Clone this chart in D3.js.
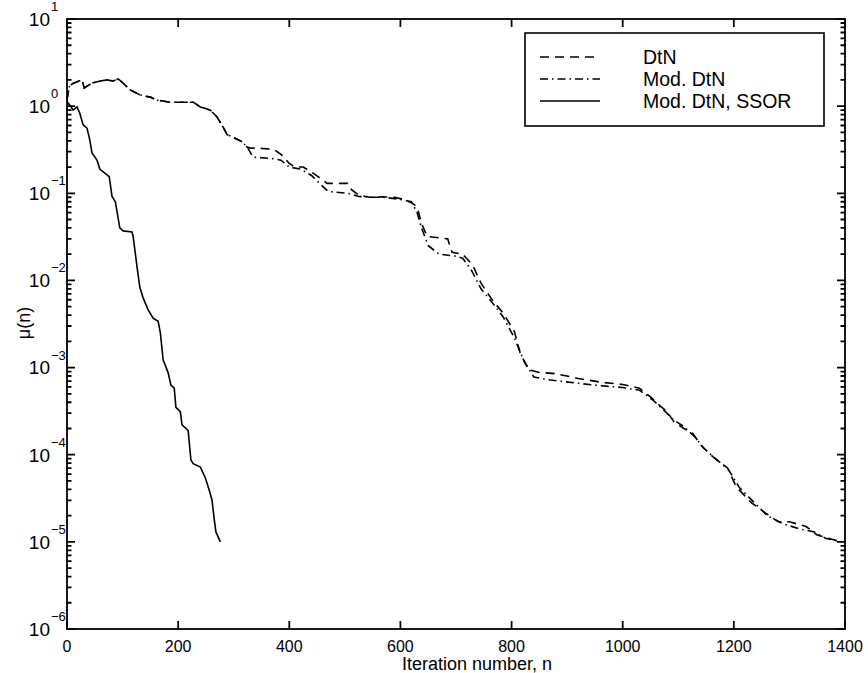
<!DOCTYPE html>
<html>
<head>
<meta charset="utf-8">
<script src="https://cdn.jsdelivr.net/npm/d3@7"></script>
<style>
  body { margin: 0; background: #fff; }
  svg { font-family: "Liberation Sans", Arial, sans-serif; }
</style>
</head>
<body>
<div id="vis"></div>
<script>
// iteration counts and mu(n) values
const dtnN = [0, 4, 9, 18, 27, 31, 45, 60, 72, 83, 92, 101, 114, 132, 150, 162, 186, 204, 227, 240, 258, 270, 281, 288, 299, 315, 324, 330, 342, 372, 385, 400, 410, 425, 440, 455, 468, 505, 512, 525, 545, 565, 590, 605, 620, 630, 638, 648, 685, 693, 712, 730, 745, 765, 785, 805, 815, 830, 850, 880, 920, 960, 1000, 1030, 1050, 1062, 1080, 1092, 1110, 1125, 1140, 1162, 1189, 1204, 1232, 1259, 1280, 1300, 1330, 1350, 1370, 1392];
const dtnMu = [1.2, 1.66, 1.8, 1.9, 2.0, 1.62, 1.84, 1.94, 2.0, 1.94, 2.05, 1.84, 1.53, 1.34, 1.27, 1.17, 1.11, 1.11, 1.11, 0.98, 0.9, 0.75, 0.575, 0.47, 0.44, 0.39, 0.34, 0.33, 0.33, 0.32, 0.28, 0.22, 0.2, 0.2, 0.175, 0.15, 0.13, 0.13, 0.11, 0.095, 0.09, 0.091, 0.09, 0.085, 0.078, 0.07, 0.045, 0.032, 0.03, 0.021, 0.02, 0.015, 0.0093, 0.006, 0.0042, 0.0026, 0.0015, 0.00095, 0.00088, 0.00085, 0.00075, 0.00068, 0.00064, 0.00058, 0.00046, 0.00039, 0.00031, 0.00024, 0.0002, 0.00018, 0.00013, 0.000095, 0.00007, 0.000043, 0.000028, 0.000021, 0.000017, 0.000017, 0.000015, 0.000012, 0.000011, 0.00001];

const modN = [0, 4, 9, 18, 27, 31, 45, 60, 72, 83, 92, 101, 114, 132, 150, 162, 186, 204, 227, 240, 258, 270, 281, 288, 299, 315, 324, 335, 370, 385, 400, 420, 440, 460, 470, 505, 525, 545, 570, 600, 620, 630, 638, 650, 670, 700, 712, 728, 745, 765, 785, 805, 822, 840, 870, 920, 960, 1000, 1030, 1055, 1075, 1092, 1110, 1130, 1145, 1165, 1190, 1210, 1235, 1260, 1290, 1320, 1345, 1365, 1395];
const modMu = [1.2, 1.66, 1.8, 1.9, 2.0, 1.62, 1.84, 1.94, 2.0, 1.94, 2.05, 1.84, 1.53, 1.34, 1.27, 1.17, 1.11, 1.11, 1.11, 0.98, 0.9, 0.75, 0.575, 0.47, 0.44, 0.39, 0.34, 0.26, 0.25, 0.24, 0.2, 0.19, 0.16, 0.12, 0.105, 0.1, 0.092, 0.09, 0.09, 0.085, 0.08, 0.06, 0.04, 0.025, 0.02, 0.019, 0.018, 0.013, 0.008, 0.0056, 0.0038, 0.0022, 0.0012, 0.00078, 0.00072, 0.00066, 0.00062, 0.00059, 0.00055, 0.00042, 0.00032, 0.00025, 0.00021, 0.00016, 0.00012, 0.000092, 0.000068, 0.000042, 0.000029, 0.00002, 0.000016, 0.000014, 0.000013, 0.000011, 0.00001];

const ssorN = [0, 5, 11, 18, 23, 29, 36, 41, 45, 54, 59, 68, 76, 81, 87, 95, 101, 117, 119, 126, 131, 137, 146, 155, 164, 168, 173, 182, 187, 193, 196, 204, 207, 218, 223, 227, 240, 249, 256, 261, 265, 268, 276];
const ssorMu = [1.12, 1.03, 0.9, 0.98, 0.83, 0.61, 0.56, 0.41, 0.29, 0.24, 0.19, 0.17, 0.155, 0.092, 0.08, 0.04, 0.037, 0.036, 0.032, 0.0143, 0.0084, 0.0063, 0.0046, 0.0037, 0.0034, 0.0025, 0.00123, 0.00087, 0.00063, 0.00058, 0.00035, 0.00031, 0.00022, 0.00019, 0.000087, 0.000079, 0.000072, 0.000054, 0.000039, 0.00003, 0.000018, 0.000013, 0.00001];

const seriesNames = ["DtN", "Mod. DtN", "Mod. DtN, SSOR"];
const xTicks = [0, 200, 400, 600, 800, 1000, 1200, 1400];
const yExponents = [1, 0, -1, -2, -3, -4, -5, -6];

// layout
let margin = { top: 19, left: 67, right: 23, bottom: 44 },
  width = 868 - margin.left - margin.right,
  height = 673 - margin.top - margin.bottom;

const svg = d3.select("#vis")
  .append("svg")
    .attr("width", 868)
    .attr("height", 673)
  .append("g")
    .attr("transform", `translate(${margin.left},${margin.top})`);

const x = d3.scaleLinear().domain([0, 1400]).range([0, width]);
const y = d3.scaleLog().domain([1e-6, 10]).range([height, 0]);

// minor ticks for the log axis (2..9 in every decade)
const minor = [];
for (let e = -6; e < 1; e++) {
  for (let k = 2; k <= 9; k++) minor.push(k * Math.pow(10, e));
}
const major = yExponents.map(e => Math.pow(10, e));

// inward ticks as one path built from the scales
const tickPath = d3.path();
xTicks.forEach(v => {
  tickPath.moveTo(x(v), height); tickPath.lineTo(x(v), height - 8);
  tickPath.moveTo(x(v), 0); tickPath.lineTo(x(v), 8);
});
major.forEach(v => {
  tickPath.moveTo(0, y(v)); tickPath.lineTo(8, y(v));
  tickPath.moveTo(width, y(v)); tickPath.lineTo(width - 8, y(v));
});
minor.forEach(v => {
  tickPath.moveTo(0, y(v)); tickPath.lineTo(4.5, y(v));
  tickPath.moveTo(width, y(v)); tickPath.lineTo(width - 4.5, y(v));
});
svg.append("path")
  .attr("d", tickPath.toString())
  .attr("fill", "none")
  .attr("stroke", "#000")
  .attr("stroke-width", 1.8);

// x tick labels
svg.append("g")
  .selectAll("text")
  .data(xTicks)
  .join("text")
    .attr("x", d => x(d))
    .attr("y", height + 23)
    .attr("text-anchor", "middle")
    .attr("font-size", 16)
    .text(d => d);

// y tick labels: 10 with a raised exponent
const yLab = svg.append("g")
  .selectAll("g")
  .data(yExponents)
  .join("g")
    .attr("transform", d => `translate(0,${y(Math.pow(10, d))})`);
yLab.append("text")
  .attr("x", -17)
  .attr("dy", "0.36em")
  .attr("text-anchor", "end")
  .attr("font-size", 19)
  .text("10");
yLab.append("text")
  .attr("x", -16)
  .attr("y", -8)
  .attr("font-size", 13)
  .text(d => d < 0 ? "\u2212" + Math.abs(d) : d);

// frame
svg.append("rect")
  .attr("width", width)
  .attr("height", height)
  .attr("fill", "none")
  .attr("stroke", "#000")
  .attr("stroke-width", 1.8);

// lines
const dashes = ["9,6", "8,4,1.5,4", null];
const series = [
  dtnN.map((n, i) => [n, dtnMu[i]]),
  modN.map((n, i) => [n, modMu[i]]),
  ssorN.map((n, i) => [n, ssorMu[i]])
];

const line = d3.line()
  .x(d => x(d[0]))
  .y(d => y(d[1]));

svg.append("g")
  .selectAll("path")
  .data(series)
  .join("path")
    .attr("d", line)
    .attr("fill", "none")
    .attr("stroke", "#000")
    .attr("stroke-width", 1.6)
    .attr("stroke-dasharray", (d, i) => dashes[i]);

// legend
const legend = svg.append("g")
  .attr("transform", `translate(${525 - margin.left},${33 - margin.top})`);

legend.append("rect")
  .attr("width", 299)
  .attr("height", 93)
  .attr("fill", "#fff")
  .attr("stroke", "#000")
  .attr("stroke-width", 1.6);

seriesNames.forEach((name, i) => {
  const yy = 24 + i * 22;
  legend.append("line")
    .attr("x1", 15).attr("x2", 75)
    .attr("y1", yy).attr("y2", yy)
    .attr("stroke", "#000")
    .attr("stroke-width", 1.5)
    .attr("stroke-dasharray", dashes[i]);
  legend.append("text")
    .attr("x", 118)
    .attr("y", yy)
    .attr("dy", "0.36em")
    .attr("font-size", 19.5)
    .text(name);
});

// axis titles
svg.append("text")
  .attr("x", (392 + 562) / 2 - margin.left)
  .attr("y", height + 41)
  .attr("text-anchor", "middle")
  .attr("font-size", 18)
  .text("Iteration number, n");

svg.append("text")
  .attr("transform", `translate(${30 - margin.left},${323 - margin.top}) rotate(-90)`)
  .attr("text-anchor", "middle")
  .attr("font-size", 18)
  .text("μ(n)");
</script>
</body>
</html>
